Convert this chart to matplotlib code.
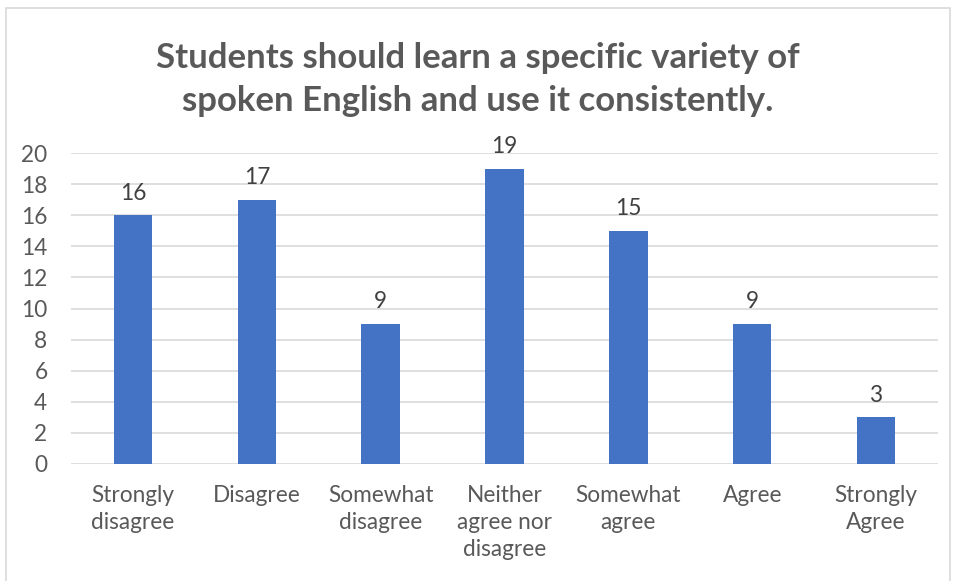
import matplotlib.pyplot as plt
from matplotlib.patches import Rectangle

categories = ["Strongly\ndisagree", "Disagree", "Somewhat\ndisagree",
              "Neither\nagree nor\ndisagree", "Somewhat\nagree", "Agree",
              "Strongly\nAgree"]
counts = [16, 17, 9, 19, 15, 9, 3]
yticks = [0, 2, 4, 6, 8, 10, 12, 14, 16, 18, 20]

plt.rcParams['font.family'] = ['Lato', 'DejaVu Sans']
text_color = '#595959'

fig = plt.figure(figsize=(9.55, 5.81), dpi=100)
ax = fig.add_axes([71 / 955, 1 - 464 / 581, (938 - 71) / 955, (464 - 153) / 581])

x = range(len(counts))
bars = ax.bar(x, counts, width=0.31, color='#4472c4', zorder=3)
for b, v in zip(bars, counts):
    ax.text(b.get_x() + b.get_width() / 2, v + 0.75, str(v), ha='center',
            va='bottom', fontsize=16.3, color='#404040')

ax.set_xlim(-0.5, len(counts) - 0.5)
ax.set_ylim(0, 20)
ax.set_yticks(yticks)
ax.set_xticks(list(x))
ax.set_xticklabels(categories, fontsize=16.3, color=text_color, linespacing=1.37,
                   va='top')
ax.tick_params(axis='y', labelsize=16.3, labelcolor=text_color, length=0, pad=17)
ax.tick_params(axis='x', length=0, pad=15)
ax.grid(axis='y', color='#d9d9d9', linewidth=1.2, zorder=0)
for s in ax.spines.values():
    s.set_visible(False)

fig.text(0.5, 1 - 58 / 581, "Students should learn a specific variety of",
         ha='center', va='center', fontsize=25, fontweight='bold', color=text_color)
fig.text(0.5, 1 - 101 / 581, "spoken English and use it consistently.",
         ha='center', va='center', fontsize=25, fontweight='bold', color=text_color)

# light chart-area frame
fig.patches.append(Rectangle((6 / 955, -0.01), 944 / 955, 1 - 8 / 581 + 0.01,
                             transform=fig.transFigure, fill=False,
                             edgecolor='#d9d9d9', linewidth=1.2))

fig.savefig('out.png', dpi=100)
